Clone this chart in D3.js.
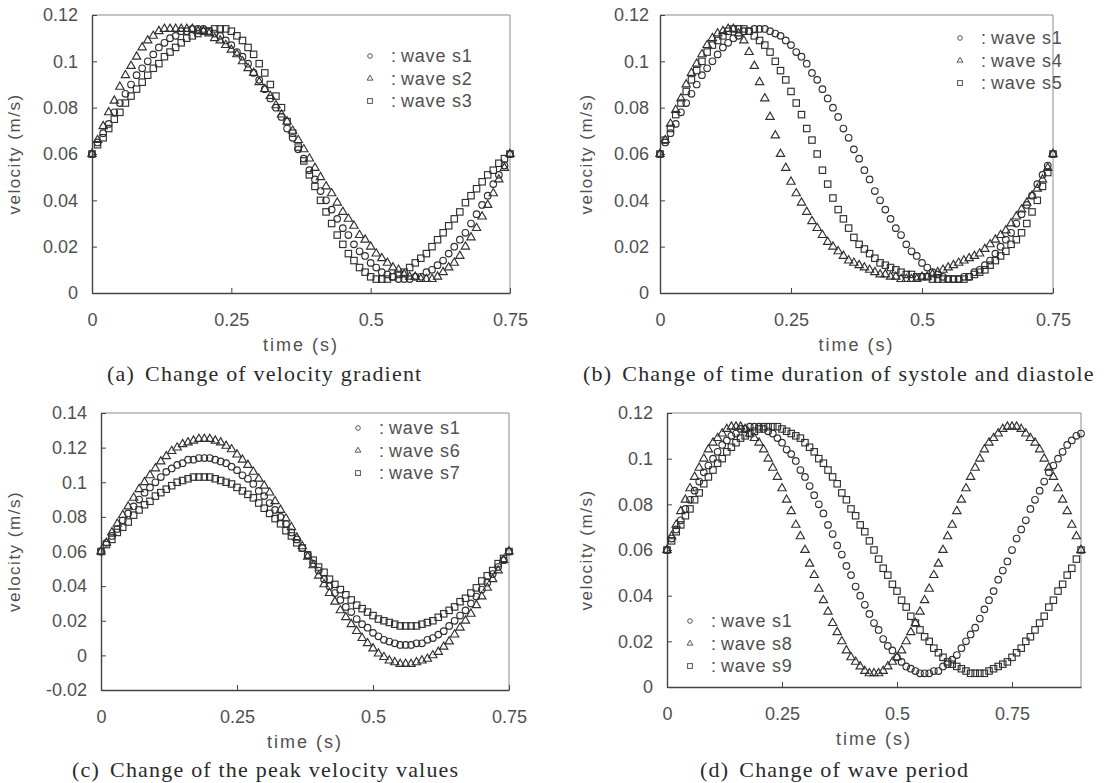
<!DOCTYPE html>
<html>
<head>
<meta charset="utf-8">
<script src="https://cdn.jsdelivr.net/npm/d3@7"></script>
<style>
  body { margin: 0; background: #fff; }
  svg { display: block; }
  .tick text { font-family: "Liberation Sans", Arial, sans-serif; font-size: 18px; fill: #505050; }
  .tick line { stroke: #444; }
  .domain { stroke: #444; stroke-width: 1.4; }
</style>
</head>
<body>
<svg id="chart" width="1113" height="783"></svg>
<script>
// sample instants (s)
const TIME = [0,0.01,0.02,0.03,0.04,0.05,0.06,0.07,0.08,0.09,
  0.1,0.11,0.12,0.13,0.14,0.15,0.16,0.17,0.18,0.19,
  0.2,0.21,0.22,0.23,0.24,0.25,0.26,0.27,0.28,0.29,
  0.3,0.31,0.32,0.33,0.34,0.35,0.36,0.37,0.38,0.39,
  0.4,0.41,0.42,0.43,0.44,0.45,0.46,0.47,0.48,0.49,
  0.5,0.51,0.52,0.53,0.54,0.55,0.56,0.57,0.58,0.59,
  0.6,0.61,0.62,0.63,0.64,0.65,0.66,0.67,0.68,0.69,
  0.7,0.71,0.72,0.73,0.74,0.75,0.76,0.77,0.78,0.79,
  0.8,0.81,0.82,0.83,0.84,0.85,0.86,0.87,0.88,0.89,0.9]

// velocity (m/s)
const S1 = [0.060,0.065,0.069,0.073,0.078,0.082,0.086,0.090,0.094,0.097,
  0.100,0.103,0.106,0.108,0.110,0.111,0.113,0.113,0.114,0.114,
  0.114,0.113,0.112,0.111,0.109,0.107,0.104,0.102,0.099,0.095,
  0.092,0.088,0.084,0.080,0.076,0.071,0.067,0.062,0.058,0.053,
  0.049,0.044,0.040,0.036,0.032,0.028,0.025,0.021,0.018,0.016,
  0.013,0.011,0.009,0.008,0.007,0.006,0.006,0.006,0.007,0.007,
  0.009,0.010,0.012,0.014,0.017,0.020,0.023,0.026,0.030,0.034,
  0.038,0.042,0.047,0.051,0.055,0.060,0.065,0.069,0.073,0.078,
  0.082,0.086,0.090,0.094,0.097,0.100,0.103,0.106,0.108,0.110,0.111]

const S2 = [0.060,0.066,0.072,0.078,0.083,0.089,0.094,0.098,0.102,0.106,
  0.109,0.111,0.113,0.114,0.114,0.114,0.114,0.114,0.114,0.113,
  0.113,0.112,0.110,0.109,0.107,0.105,0.103,0.100,0.097,0.095,
  0.091,0.088,0.085,0.081,0.077,0.074,0.070,0.066,0.062,0.058,
  0.054,0.050,0.046,0.043,0.039,0.035,0.032,0.029,0.025,0.023,
  0.020,0.017,0.015,0.013,0.011,0.010,0.008,0.007,0.007,0.006,
  0.006,0.006,0.007,0.009,0.011,0.013,0.016,0.020,0.024,0.028,
  0.033,0.038,0.043,0.049,0.054,0.060]

const S3 = [0.060,0.064,0.067,0.071,0.075,0.078,0.082,0.085,0.088,0.091,
  0.094,0.097,0.099,0.102,0.104,0.106,0.108,0.110,0.111,0.112,
  0.113,0.113,0.114,0.114,0.114,0.113,0.111,0.109,0.106,0.103,
  0.099,0.095,0.090,0.085,0.080,0.074,0.069,0.063,0.057,0.051,
  0.046,0.040,0.035,0.030,0.025,0.021,0.017,0.014,0.011,0.009,
  0.007,0.006,0.006,0.006,0.007,0.008,0.009,0.011,0.013,0.015,
  0.017,0.020,0.023,0.026,0.029,0.032,0.035,0.039,0.042,0.045,
  0.048,0.051,0.053,0.056,0.058,0.060]

const S4 = [0.060,0.066,0.073,0.079,0.084,0.090,0.095,0.099,0.103,0.107,
  0.110,0.112,0.113,0.114,0.114,0.112,0.109,0.104,0.098,0.091,
  0.084,0.076,0.068,0.060,0.054,0.048,0.043,0.039,0.035,0.031,
  0.028,0.025,0.022,0.020,0.018,0.016,0.014,0.013,0.012,0.011,
  0.010,0.009,0.008,0.008,0.007,0.007,0.006,0.006,0.006,0.006,
  0.007,0.007,0.008,0.009,0.010,0.011,0.012,0.013,0.014,0.015,
  0.016,0.017,0.019,0.021,0.023,0.025,0.027,0.030,0.033,0.036,
  0.039,0.042,0.045,0.049,0.054,0.060]

const S5 = [0.060,0.066,0.071,0.077,0.082,0.087,0.092,0.096,0.100,0.104,
  0.107,0.109,0.111,0.113,0.114,0.114,0.114,0.113,0.111,0.109,
  0.107,0.104,0.100,0.096,0.092,0.087,0.082,0.077,0.071,0.066,
  0.060,0.053,0.047,0.041,0.036,0.032,0.028,0.024,0.021,0.019,
  0.017,0.015,0.013,0.012,0.011,0.010,0.009,0.008,0.008,0.007,
  0.007,0.007,0.006,0.006,0.006,0.006,0.006,0.006,0.006,0.007,
  0.008,0.009,0.010,0.012,0.014,0.016,0.018,0.021,0.023,0.026,
  0.030,0.035,0.040,0.046,0.052,0.060]

const S6 = [0.060,0.065,0.071,0.076,0.081,0.086,0.091,0.096,0.100,0.104,
  0.108,0.112,0.115,0.118,0.120,0.122,0.123,0.124,0.125,0.125,
  0.125,0.124,0.123,0.121,0.119,0.116,0.113,0.110,0.106,0.102,
  0.098,0.094,0.089,0.084,0.079,0.074,0.068,0.063,0.057,0.052,
  0.046,0.041,0.036,0.031,0.026,0.022,0.018,0.014,0.010,0.007,
  0.004,0.001,-0.001,-0.003,-0.004,-0.005,-0.005,-0.005,-0.004,-0.003,
  -0.002,0.000,0.002,0.005,0.008,0.012,0.016,0.020,0.024,0.029,
  0.034,0.039,0.044,0.049,0.055,0.060]

const S7 = [0.060,0.064,0.067,0.071,0.074,0.077,0.081,0.084,0.087,0.089,
  0.092,0.094,0.096,0.098,0.100,0.101,0.102,0.103,0.103,0.103,
  0.103,0.102,0.101,0.100,0.099,0.097,0.095,0.093,0.091,0.088,
  0.085,0.082,0.079,0.076,0.072,0.069,0.065,0.062,0.058,0.055,
  0.051,0.048,0.044,0.041,0.038,0.035,0.032,0.029,0.027,0.025,
  0.023,0.021,0.020,0.019,0.018,0.017,0.017,0.017,0.017,0.018,
  0.019,0.020,0.022,0.024,0.026,0.028,0.031,0.033,0.036,0.039,
  0.043,0.046,0.049,0.053,0.056,0.060]

const S8 = [0.060,0.066,0.071,0.077,0.082,0.087,0.092,0.096,0.100,0.104,
  0.107,0.109,0.111,0.113,0.114,0.114,0.114,0.113,0.111,0.109,
  0.107,0.104,0.100,0.096,0.092,0.087,0.082,0.077,0.071,0.066,
  0.060,0.054,0.049,0.043,0.038,0.033,0.028,0.024,0.020,0.016,
  0.013,0.011,0.009,0.007,0.006,0.006,0.006,0.007,0.009,0.011,
  0.013,0.016,0.020,0.024,0.028,0.033,0.038,0.043,0.049,0.054,
  0.060,0.066,0.071,0.077,0.082,0.087,0.092,0.096,0.100,0.104,
  0.107,0.109,0.111,0.113,0.114,0.114,0.114,0.113,0.111,0.109,
  0.107,0.104,0.100,0.096,0.092,0.087,0.082,0.077,0.071,0.066,0.060]

const S9 = [0.060,0.064,0.068,0.071,0.075,0.078,0.082,0.085,0.089,0.092,
  0.095,0.098,0.100,0.103,0.105,0.107,0.109,0.110,0.111,0.112,
  0.113,0.114,0.114,0.114,0.114,0.113,0.112,0.111,0.110,0.109,
  0.107,0.105,0.103,0.100,0.098,0.095,0.092,0.089,0.085,0.082,
  0.078,0.075,0.071,0.068,0.064,0.060,0.056,0.052,0.049,0.045,
  0.042,0.038,0.035,0.031,0.028,0.025,0.022,0.020,0.017,0.015,
  0.013,0.011,0.010,0.009,0.008,0.007,0.006,0.006,0.006,0.006,
  0.007,0.008,0.009,0.010,0.011,0.013,0.015,0.017,0.020,0.022,
  0.025,0.028,0.031,0.035,0.038,0.042,0.045,0.049,0.052,0.056,0.060]

const X_TICKS = [0, 0.25, 0.5, 0.75]
const Y_TICKS = [0, 0.02, 0.04, 0.06, 0.08, 0.1, 0.12]
const Y_TICKS_C = [-0.02, 0, 0.02, 0.04, 0.06, 0.08, 0.1, 0.12, 0.14]
const X_LABEL = "time (s)"
const Y_LABEL = "velocity (m/s)"
const CAPTIONS = [
  ["(a)", "Change of velocity gradient"],
  ["(b)", "Change of time duration of systole and diastole"],
  ["(c)", "Change of the peak velocity values"],
  ["(d)", "Change of wave period"]
]

// layout of the four panels (pixels)
const panels = [
  {box: [92, 510, 15, 293], x: [0, 0.75], y: [0, 0.12], yticks: Y_TICKS,
   series: [["wave s1", S1, "circle"], ["wave s2", S2, "triangle"], ["wave s3", S3, "square"]],
   legend: [370, 56], ylab: 14, cap: [107, 381], pad: 14},
  {box: [660, 1053, 15, 293], x: [0, 0.75], y: [0, 0.12], yticks: Y_TICKS,
   series: [["wave s1", S1, "circle"], ["wave s4", S4, "triangle"], ["wave s5", S5, "square"]],
   legend: [960, 38], ylab: 586, cap: [583, 381], pad: 11},
  {box: [101, 509, 413, 690], x: [0, 0.75], y: [-0.02, 0.14], yticks: Y_TICKS_C,
   series: [["wave s1", S1, "circle"], ["wave s6", S6, "triangle"], ["wave s7", S7, "square"]],
   legend: [358, 428], ylab: 14, cap: [72, 777], pad: 14},
  {box: [667, 1081, 413, 687], x: [0, 0.9], y: [0, 0.12], yticks: Y_TICKS,
   series: [["wave s1", S1, "circle"], ["wave s8", S8, "triangle"], ["wave s9", S9, "square"]],
   legend: [690, 621], ylab: 586, cap: [700, 777], pad: 14}
]

const svg = d3.select("#chart")
const INK = "#303030"

const drawMark = (g, shape, x, y, big) => {
  if (shape === "circle") {
    g.append("circle").attr("cx", x).attr("cy", y).attr("r", big ? 3.3 : 2.3)
  } else if (shape === "triangle") {
    g.append("path").attr("transform", `translate(${x},${y})`)
      .attr("d", d3.symbol(d3.symbolTriangle, big ? 30 : 14)())
  } else {
    let s = big ? 6.4 : 4.8
    g.append("rect").attr("x", x - s / 2).attr("y", y - s / 2).attr("width", s).attr("height", s)
  }
}

panels.forEach((p, pi) => {
  let [x0, x1, yT, yB] = p.box
  let x = d3.scaleLinear().domain(p.x).range([x0, x1])
  let y = d3.scaleLinear().domain(p.y).range([yB, yT])
  let g = svg.append("g")

  //light frame on top and right
  g.append("path").attr("d", `M${x0},${yT}H${x1}V${yB}`)
    .attr("fill", "none").attr("stroke", "#8c8c8c").attr("stroke-width", 1)

  g.append("g").attr("transform", `translate(0,${yB})`)
    .call(d3.axisBottom(x).tickValues(X_TICKS).tickFormat(d => String(d))
      .tickSizeInner(-5).tickSizeOuter(0).tickPadding(20))
  g.append("g").attr("transform", `translate(${x0},0)`)
    .call(d3.axisLeft(y).tickValues(p.yticks).tickFormat(d => String(d))
      .tickSizeInner(-5).tickSizeOuter(0).tickPadding(p.pad))

  //axis titles
  let sans = '"Liberation Sans", Arial, sans-serif'
  g.append("text").attr("x", (x0 + x1) / 2).attr("y", yB + 58)
    .attr("text-anchor", "middle").attr("font-family", sans).attr("font-size", 18)
    .attr("letter-spacing", 2).attr("fill", "#505050").text(X_LABEL)
  g.append("text").attr("transform", `translate(${p.ylab},${(yT + yB) / 2}) rotate(-90)`)
    .attr("dy", "0.35em").attr("text-anchor", "middle").attr("font-family", sans)
    .attr("font-size", 17).attr("letter-spacing", 1.5).attr("fill", "#505050").text(Y_LABEL)

  //markers
  let marks = g.append("g").attr("fill", "none").attr("stroke", INK).attr("stroke-width", 1.15)
  p.series.forEach(([name, vals, shape]) => {
    vals.forEach((v, i) => {
      if (TIME[i] > p.x[1] + 1e-9) return
      drawMark(marks, shape, x(TIME[i]), y(v), true)
    })
  })

  //legend
  let [lx, ly] = p.legend
  p.series.forEach(([name, vals, shape], i) => {
    let yy = ly + i * 22.5
    let lg = g.append("g")
    let sym = lg.append("g").attr("fill", "none").attr("stroke", "#555").attr("stroke-width", 1)
    drawMark(sym, shape, lx, yy, false)
    lg.append("text").attr("x", lx + 21).attr("y", yy).attr("dy", "0.35em")
      .attr("font-family", sans).attr("font-size", 18).attr("fill", "#505050").text(":")
    lg.append("text").attr("x", lx + 31).attr("y", yy).attr("dy", "0.35em")
      .attr("font-family", sans).attr("font-size", 18).attr("letter-spacing", 0.8)
      .attr("fill", "#505050").text(name)
  })

  //caption
  let cap = g.append("text").attr("x", p.cap[0]).attr("y", p.cap[1])
    .attr("font-family", '"Liberation Serif", "Times New Roman", serif')
    .attr("font-size", 22).attr("letter-spacing", 1.2).attr("fill", "#2a2a2a")
  cap.append("tspan").text(CAPTIONS[pi][0])
  cap.append("tspan").attr("dx", 10).text(CAPTIONS[pi][1])
})
</script>
</body>
</html>
